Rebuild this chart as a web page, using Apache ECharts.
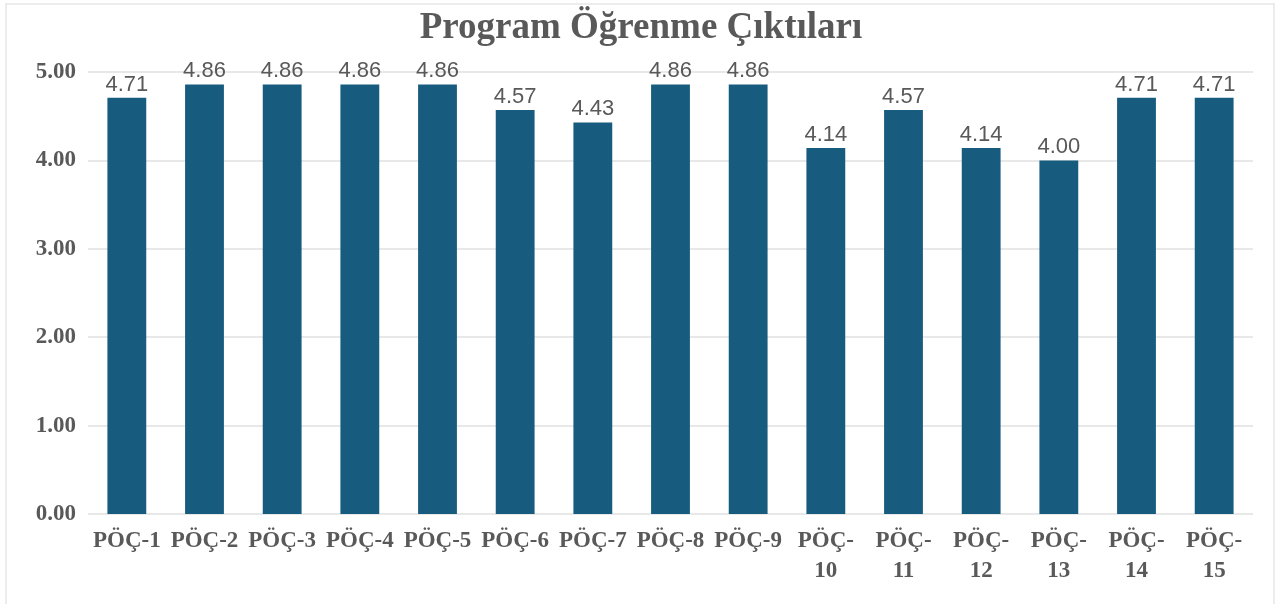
<!DOCTYPE html>
<html>
<head>
<meta charset="utf-8">
<script src="https://cdn.jsdelivr.net/npm/echarts@6/dist/echarts.min.js"></script>
<style>
    html, body { margin: 0; padding: 0; background: #fff; }
    #frame { position: absolute; left: 5px; top: 3px; width: 1270px; height: 610px; border: 2px solid #ececec; box-sizing: border-box; }
    #chart { position: absolute; left: 0; top: 0; width: 1282px; height: 604px; }
</style>
</head>
<body>
<div id="frame"></div>
<div id="chart"></div>
<script>
    // kategoriler ve ortalama puanlar
    var categories = ['PÖÇ-1', 'PÖÇ-2', 'PÖÇ-3', 'PÖÇ-4', 'PÖÇ-5', 'PÖÇ-6', 'PÖÇ-7', 'PÖÇ-8',
        'PÖÇ-9', 'PÖÇ-10', 'PÖÇ-11', 'PÖÇ-12', 'PÖÇ-13', 'PÖÇ-14', 'PÖÇ-15'];
    var scores = [4.71, 4.86, 4.86, 4.86, 4.86, 4.57, 4.43, 4.86, 4.86, 4.14, 4.57, 4.14, 4.00, 4.71, 4.71];
    var yTicks = [0, 1, 2, 3, 4, 5];

    var serif = '"Liberation Serif", "DejaVu Serif", serif';
    var myChart = echarts.init(document.getElementById('chart'));
    var option = {
        animation: false,
        title: {
            text: 'Program Öğrenme Çıktıları',
            left: 'center',
            top: 5,
            textStyle: { fontFamily: serif, fontWeight: 'bold', fontSize: 37, color: '#595959' }
        },
        grid: { left: 88, right: 29, top: 72, bottom: 90, containLabel: false },
        xAxis: {
            type: 'category',
            data: categories,
            axisLine: { show: false },
            axisTick: { show: false },
            axisLabel: {
                interval: 0,
                margin: 12,
                lineHeight: 30,
                fontFamily: serif,
                fontWeight: 'bold',
                fontSize: 23,
                color: '#595959',
                formatter: function (v) {
                    // iki haneli numaralar alt satıra
                    return v.length > 5 ? v.replace('-', '-\n') : v;
                }
            }
        },
        yAxis: {
            type: 'value',
            min: yTicks[0],
            max: yTicks[yTicks.length - 1],
            interval: 1,
            axisLine: { show: false },
            axisTick: { show: false },
            splitLine: { lineStyle: { color: '#e8e8e8', width: 2 } },
            axisLabel: {
                margin: 12,
                fontFamily: serif,
                fontWeight: 'bold',
                fontSize: 23,
                color: '#595959',
                formatter: function (v) { return v.toFixed(2); }
            }
        },
        series: [{
            type: 'bar',
            data: scores,
            barWidth: '50%',
            itemStyle: { color: '#175c7e' },
            label: {
                show: true,
                position: 'top',
                distance: 2,
                fontFamily: '"Liberation Sans", Arial, sans-serif',
                fontSize: 22,
                color: '#595959',
                formatter: function (p) { return p.value.toFixed(2); }
            }
        }]
    };
    myChart.setOption(option, true);
</script>
</body>
</html>
